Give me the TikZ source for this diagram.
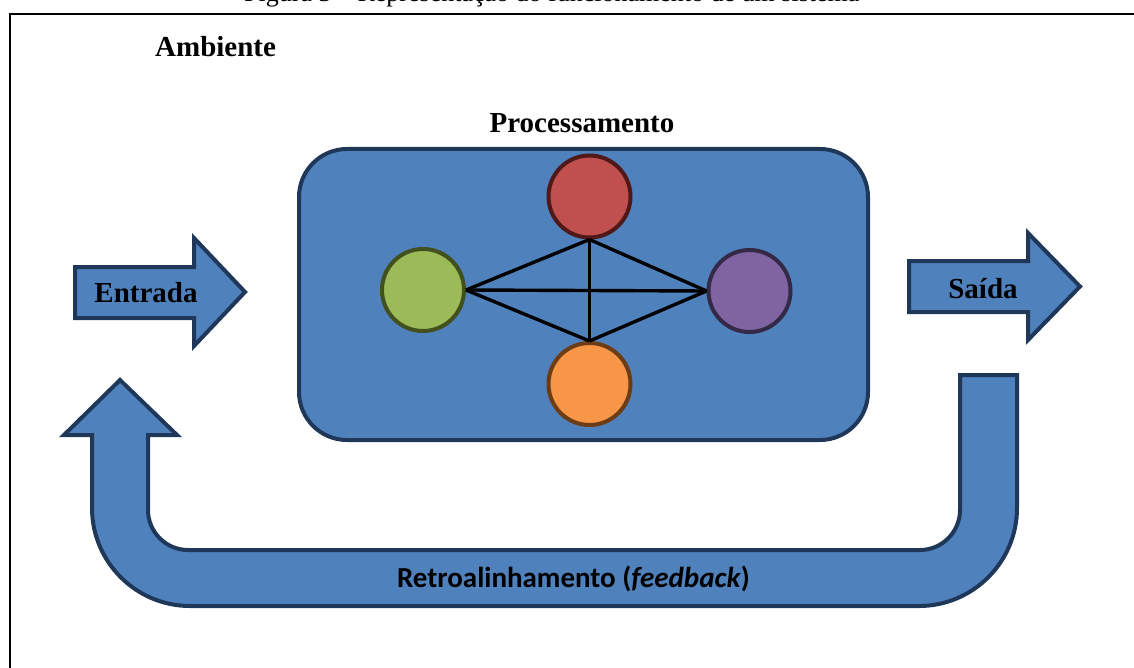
\documentclass[tikz,border=0pt]{standalone}
\usepackage{fontspec}
\setmainfont{Liberation Serif}
\newfontfamily\calibri{Carlito}

\definecolor{boxblue}{RGB}{79,129,189}
\definecolor{navy}{RGB}{31,56,90}
\definecolor{cred}{RGB}{192,80,77}
\definecolor{credd}{RGB}{80,24,24}
\definecolor{cgreen}{RGB}{155,187,89}
\definecolor{cgreend}{RGB}{66,80,30}
\definecolor{cpurple}{RGB}{128,100,162}
\definecolor{cpurpled}{RGB}{52,42,72}
\definecolor{corange}{RGB}{247,150,70}
\definecolor{corangled}{RGB}{108,60,20}

\tikzset{
  bluefill/.style={fill=boxblue, draw=navy, line width=4pt},
  procbox/.style={bluefill, rounded corners=48pt, minimum width=569pt, minimum height=291pt, inner sep=0pt},
  unit/.style={circle, line width=4pt, minimum size=82pt, inner sep=0pt},
  link/.style={black, line width=3.4pt},
  title/.style={font=\fontsize{29}{32}\selectfont\bfseries, inner sep=0pt},
  caption/.style={font=\fontsize{26}{30}\selectfont, inner sep=0pt}
}

\begin{document}
\begin{tikzpicture}[x=1pt, y=-1pt]
\useasboundingbox (0,0) rectangle (1134,668);

% figure caption, cut by the top edge
\begin{scope}
  \clip (0,0) rectangle (1134,668);
  \node[caption, anchor=base west] (cap) at (244,1.5) {Figura 3 – Representação do funcionamento de um sistema};
  % outer frame
  \draw[line width=2pt] (1140,14) -- (10,14) -- (10,675);
\end{scope}

\node[title, anchor=base west] (amb) at (155,57) {Ambiente};

% processing block
\node[procbox] (proc) at (583.5,294.5) {};
\node[title, anchor=base] (proclbl) at (582,133) {Processamento};

% internal units
\node[unit, fill=cred, draw=credd] (red) at (589.5,196.5) {};
\node[unit, fill=cgreen, draw=cgreend] (green) at (423,290) {};
\node[unit, fill=cpurple, draw=cpurpled] (purple) at (749.5,291) {};
\node[unit, fill=corange, draw=corangled] (orange) at (589.5,384) {};

\draw[link] (green.east) -- (red.south);
\draw[link] (green.east) -- (purple.west);
\draw[link] (green.east) -- (orange.north);
\draw[link] (red.south) -- (orange.north);
\draw[link] (red.south) -- (purple.west);
\draw[link] (orange.north) -- (purple.west);

% input arrow
\draw[bluefill] (75,267) -- (194,267) -- (194,238) -- (245,292) -- (194,346)
  -- (194,318) -- (75,318) -- cycle;
\node[title, anchor=base] (entrada) at (146,302) {Entrada};

% output arrow
\draw[bluefill] (909,261) -- (1028,261) -- (1028,233) -- (1080,286.5) -- (1028,340)
  -- (1028,312) -- (909,312) -- cycle;
\node[title, anchor=base] (saida) at (983,298) {Saída};

% feedback loop
\draw[bluefill] (960,375) -- (1017,375) -- (1017,508)
  .. controls (1017,562) and (973,606) .. (919,606) -- (190,606)
  .. controls (136,606) and (92,562) .. (92,508) -- (92,435) -- (64,435)
  -- (120,380) -- (177,435) -- (148,435) -- (148,510)
  .. controls (148,532) and (166,550) .. (188,550) -- (920,550)
  .. controls (942,550) and (960,532) .. (960,510) -- cycle;
\node[font=\calibri\fontsize{29}{32}\selectfont\bfseries, inner sep=0pt, anchor=base] (fb) at (573.5,587)
  {Retroalinhamento (\textit{feedback})};

\end{tikzpicture}
\end{document}
